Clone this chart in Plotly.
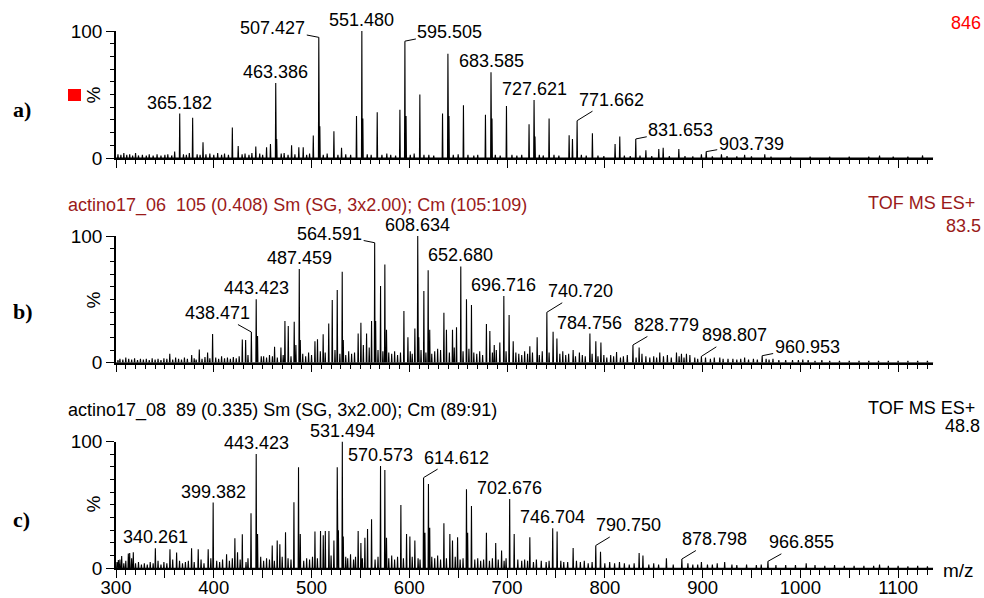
import plotly.graph_objects as go

# ---------------- data ----------------
# Panel a) main peaks (m/z, relative intensity %)
mz_a = [365.182, 378.4, 389.0, 419.0, 425.0, 443.0, 454.0, 458.0, 463.386, 464.4,
        479.6, 487.0, 491.5, 501.8, 507.427, 508.5, 522.9, 530.7, 546.0, 551.480,
        552.5, 567.2, 590.4, 595.505, 596.7, 610.8, 634.0, 639.5, 640.6, 655.4,
        677.9, 683.585, 684.6, 699.4, 722.5, 727.621, 728.6, 743.0, 763.5, 766.9,
        771.662, 787.3, 810.5, 815.3, 831.653, 842.0, 855.2, 859.7, 875.7, 898.8,
        903.739, 919.3, 943.0, 963.6, 1081.0, 1125.0]
int_a = [35, 31.7, 12.4, 24, 9.5, 9, 8.5, 11, 59, 15,
         10, 8.5, 8.5, 17.7, 95, 25, 21, 8, 33, 100,
         31, 36, 38, 92, 33, 50, 35, 82, 33, 41.5,
         34, 67.5, 31, 41, 26.5, 45.7, 17, 31, 18, 15,
         29.4, 19.4, 11, 17, 15, 6, 7, 8, 7, 3,
         5, 3, 2.5, 3, 2, 2]
noise_mz_a = [302, 305, 308, 311, 314, 317, 320, 323, 327, 331,
              334, 338, 342, 346, 350, 353, 357, 360, 369, 372,
              375, 383, 386, 392, 396, 400, 404, 408, 411, 415,
              429, 432, 436, 439, 447, 450, 469, 472, 476, 483,
              495, 498, 512, 516, 527, 535, 540, 557, 561, 572,
              577, 581, 586, 601, 605, 615, 620, 625, 645, 650,
              660, 666, 670, 688, 693, 705, 710, 715, 733, 737,
              748, 753, 776, 781, 793, 799, 820, 826, 836, 848,
              866, 882, 890, 910, 925, 935, 950, 970, 990, 1010,
              1030, 1050, 1070, 1095, 1110]
noise_int_a = [3, 2.5, 4, 2.5, 3, 2, 4, 2, 2.5, 2,
               3, 2, 3, 2, 2.5, 3, 2, 5, 3, 2.5,
               4, 3, 2.5, 3, 3.5, 2.5, 4, 2.5, 3.5, 2.5,
               3, 3.5, 2.5, 4, 3.5, 2.5, 3.5, 4, 2.5, 3,
               2.5, 3.5, 2.5, 3.5, 2.5, 3, 2.5, 3, 2.5, 2.5,
               3.5, 2.5, 2, 2.5, 3.5, 2.5, 2.5, 2, 2.5, 3,
               2.5, 2, 2.5, 2.5, 2, 2.5, 2, 2.5, 2.5, 2,
               2.5, 2, 2.5, 2, 2, 1.5, 2, 1.5, 2, 1.5,
               1.5, 1.5, 1.2, 1.2, 1.5, 1.2, 1.2, 1, 1, 1,
               1, 1, 1, 1, 1]
labels_a = [365.182, 463.386, 507.427, 551.480, 595.505, 683.585, 727.621,
            771.662, 831.653, 903.739]

# Panel b)
mz_b = [355.0, 377.4, 385.2, 393.7, 398.8, 429.2, 432.6, 438.471, 443.423, 444.8,
        448.6, 462.2, 468.7, 472.8, 476.2, 482.3, 484.0, 487.459, 488.5, 503.5,
        506.1, 511.9, 517.6, 521.2, 526.3, 531.4, 532.5, 547.7, 550.5, 556.3,
        561.4, 564.591, 565.6, 570.6, 575.0, 576.7, 594.5, 598.6, 605.7, 608.634,
        609.7, 614.9, 619.3, 620.9, 635.4, 638.0, 644.2, 648.3, 652.680, 658.5,
        663.6, 678.9, 682.4, 686.9, 692.6, 696.716, 702.1, 706.3, 723.3, 730.8,
        740.720, 747.1, 751.0, 767.6, 774.0, 784.756, 790.8, 796.0, 812.0, 828.779,
        835.1, 856.2, 873.3, 878.4, 883.5, 898.807, 917.6, 943.0, 960.953, 972.0,
        1002.5]
int_b = [7, 6, 10.5, 8, 22.7, 18.4, 18, 24.2, 50, 21,
         5, 12.6, 12, 33, 29, 32.4, 14, 74, 18, 17,
         18.5, 22.4, 31, 49.5, 57.4, 71.8, 18, 23, 31.6, 23,
         33, 94.7, 33, 60.5, 77.6, 26, 40.8, 20, 27, 100,
         20, 56.6, 73, 26, 39.5, 26, 26, 28, 76, 50,
         45.5, 30.5, 25, 14, 16, 52.6, 37.6, 17, 13, 20,
         39.8, 24.5, 19, 10, 8, 23, 17, 16, 8.5, 14,
         12, 8, 8, 7, 7, 5, 4, 4, 5.5, 3,
         2.5]
noise_mz_b = [302, 304, 307, 310, 313, 316, 319, 322, 325, 328,
              331, 334, 337, 340, 343, 346, 349, 352, 358, 361,
              364, 367, 370, 373, 380, 382, 388, 391, 396, 402,
              405, 408, 411, 414, 417, 420, 423, 426, 435, 451,
              454, 457, 460, 465, 471, 479, 491, 494, 497, 500,
              509, 514, 524, 529, 535, 538, 541, 544, 553, 559,
              568, 573, 579, 582, 585, 588, 591, 601, 603, 612,
              617, 623, 626, 629, 632, 641, 646, 655, 661, 666,
              669, 672, 675, 685, 689, 699, 709, 712, 715, 718,
              721, 726, 733, 736, 743, 754, 757, 760, 763, 770,
              777, 780, 787, 793, 799, 802, 806, 809, 816, 819,
              823, 832, 838, 842, 846, 850, 853, 860, 864, 868,
              876, 881, 887, 892, 895, 903, 908, 912, 921, 926,
              931, 935, 939, 947, 952, 956, 965, 968, 978, 985,
              992, 998, 1008, 1015, 1022, 1030, 1040, 1050, 1060, 1070,
              1080, 1090, 1100, 1110, 1120, 1130]
noise_int_b = [2, 3, 2.5, 4, 3, 2.5, 3.5, 2, 3, 2.5,
               3, 2, 3.5, 2.5, 3, 2, 3.5, 3, 2.5, 4,
               3, 2.5, 4, 3, 3.5, 2.5, 3, 4.5, 3.5, 4,
               3, 5, 3.5, 4, 3, 4.5, 3.5, 5, 6, 5,
               4, 6, 5, 4, 6, 5, 7, 5, 8, 6,
               9, 8, 10, 7, 6, 9, 7, 8, 14, 12,
               10, 9, 8, 7, 9, 6, 8, 9, 7, 10,
               8, 7, 9, 11, 10, 8, 12, 9, 11, 8,
               7, 9, 6, 8, 10, 9, 8, 7, 6, 9,
               7, 8, 6, 9, 8, 7, 9, 6, 7, 5,
               6, 5, 7, 5, 6, 4, 6, 5, 4, 5,
               6, 4, 7, 5, 4, 5, 4, 5, 6, 4,
               5, 4, 6, 4, 3, 4, 3, 4, 3, 3,
               3, 2.5, 3, 2.5, 3, 2.5, 3, 2.5, 2, 2,
               2, 2, 2, 1.5, 2, 1.5, 1.5, 1.5, 1.5, 1.5,
               1.5, 1.5, 1.5, 1.5, 1.5, 1.5]
labels_b = [438.471, 443.423, 487.459, 564.591, 608.634, 652.680, 696.716,
            740.720, 784.756, 828.779, 898.807, 960.953]

# Panel c)
mz_c = [302.4, 305.8, 312.6, 314.0, 317.7, 340.261, 355.2, 362.0, 377.3, 384.1,
        394.3, 399.382, 413.1, 421.6, 424.3, 429.2, 438.1, 443.423, 444.8, 459.8,
        464.9, 467.6, 473.4, 482.0, 486.7, 488.5, 503.5, 509.2, 512.0, 514.1,
        517.8, 522.9, 526.3, 527.5, 531.494, 532.5, 539.9, 547.7, 550.5, 554.6,
        557.3, 561.4, 570.573, 575.0, 576.7, 591.4, 597.2, 600.6, 605.7, 614.612,
        616.0, 619.6, 620.9, 635.4, 641.5, 644.2, 649.4, 658.5, 659.7, 663.6,
        678.9, 688.4, 694.4, 702.676, 707.3, 723.3, 746.704, 751.2, 767.6, 790.750,
        795.6, 835.1, 839.0, 863.0, 878.798, 898.8, 922.6, 966.855, 1006.0, 1081.0]
int_c = [6.5, 9.6, 11.7, 12, 12.7, 15.8, 15, 12.4, 15.8, 15,
         15, 51.8, 11, 23.7, 12.6, 26.8, 43.4, 90.2, 27, 18,
         22, 19, 28.4, 52, 79.7, 27, 29, 29.5, 26, 29.5,
         29.5, 22, 79.7, 30, 100, 25, 11, 29.4, 20, 24,
         31, 38.7, 80.7, 77.6, 24, 50, 27, 25, 22, 71.5,
         28, 66.5, 32, 35.5, 27, 22, 24.5, 62.3, 28, 49.2,
         28, 20, 14, 54.7, 27, 24.5, 31.5, 29, 16, 18,
         13, 12, 10, 8, 7.3, 5, 5, 5.5, 4, 3]
noise_mz_c = [301, 304, 308, 310, 316, 320, 323, 326, 329, 332,
              335, 338, 343, 346, 349, 352, 358, 365, 368, 371,
              374, 380, 387, 390, 397, 403, 406, 409, 416, 419,
              427, 433, 435, 448, 451, 454, 457, 462, 470, 476,
              479, 492, 495, 498, 501, 506, 520, 535, 537, 543,
              545, 552, 565, 568, 579, 582, 585, 588, 594, 603,
              609, 611, 623, 626, 629, 632, 638, 647, 652, 655,
              667, 670, 673, 676, 682, 685, 691, 697, 699, 711,
              715, 718, 721, 727, 730, 735, 740, 743, 755, 758,
              762, 771, 775, 779, 783, 787, 800, 805, 810, 815,
              820, 825, 830, 845, 850, 855, 870, 885, 890, 895,
              905, 910, 915, 930, 935, 945, 955, 960, 975, 985,
              995, 1015, 1025, 1035, 1045, 1055, 1065, 1075, 1090, 1100,
              1110, 1120, 1130]
noise_int_c = [5, 7, 4, 6, 8, 4, 5, 3, 4, 3,
               5, 4, 6, 3, 5, 4, 7, 6, 4, 5,
               6, 5, 7, 4, 8, 6, 5, 7, 6, 8,
               7, 5, 8, 9, 6, 8, 7, 6, 9, 8,
               7, 6, 8, 7, 9, 8, 10, 9, 8, 7,
               9, 8, 7, 9, 8, 10, 7, 9, 8, 9,
               8, 7, 9, 8, 10, 7, 8, 9, 7, 8,
               7, 8, 6, 7, 6, 8, 7, 6, 8, 7,
               6, 7, 6, 5, 7, 6, 5, 6, 6, 5,
               5, 6, 5, 6, 4, 5, 4, 5, 4, 5,
               4, 3, 4, 3, 4, 3, 3, 4, 3, 3,
               3, 3, 4, 3, 2.5, 3, 2.5, 3, 2.5, 2.5,
               2.5, 2.5, 2, 2.5, 2, 2, 2, 2, 2, 2,
               1.5, 2, 1.5]
labels_c = [340.261, 399.382, 443.423, 531.494, 570.573, 614.612, 702.676,
            746.704, 790.750, 878.798, 966.855]

x_ticks = [300, 350, 400, 450, 500, 550, 600, 650, 700, 750, 800, 850, 900,
           950, 1000, 1050, 1100]
x_ticktext = ["300", "", "400", "", "500", "", "600", "", "700", "", "800", "",
              "900", "", "1000", "", "1100"]

title_b = "actino17_06  105 (0.408) Sm (SG, 3x2.00); Cm (105:109)"
title_c = "actino17_08  89 (0.335) Sm (SG, 3x2.00); Cm (89:91)"
scale_a, scale_b, scale_c = "846", "83.5", "48.8"

# ---------------- styling ----------------
W, H = 984, 598
XMIN, XMAX = 300, 1136
FONT = "Liberation Sans, Arial, sans-serif"
DARKRED = "#9a1a1a"

def px(x):
    return x / W

def py(y):
    return 1 - y / H

xdom = [px(116), px(933.3)]
ydoms = {
    "a": [py(158), py(31)],
    "b": [py(362.7), py(236)],
    "c": [py(568.3), py(441.5)],
}


def profile(mzs, hs, nmz, nh, w=0.4):
    pts = sorted(list(zip(mzs, hs)) + list(zip(nmz, nh)))
    xs, ys = [XMIN], [0]
    for m, h in pts:
        xs += [m - w, m, m + w]
        ys += [0, h, 0]
    xs.append(XMAX)
    ys.append(0)
    return xs, ys


fig = go.Figure()
panels = [
    ("a", "x", "y", mz_a, int_a, noise_mz_a, noise_int_a),
    ("b", "x2", "y2", mz_b, int_b, noise_mz_b, noise_int_b),
    ("c", "x3", "y3", mz_c, int_c, noise_mz_c, noise_int_c),
]
for key, xa, ya, mz, it, nmz, nit in panels:
    xs, ys = profile(mz, it, nmz, nit)
    fig.add_trace(go.Scatter(x=xs, y=ys, mode="lines", xaxis=xa, yaxis=ya,
                             line=dict(color="black", width=1.1),
                             hoverinfo="skip", showlegend=False))

axis_common = dict(showline=True, linecolor="black", linewidth=1.5,
                   showgrid=False, zeroline=False, ticks="outside",
                   tickcolor="black", tickwidth=1, ticklen=8,
                   tickfont=dict(family=FONT, size=19, color="black"),
                   fixedrange=True, automargin=False)

layout = dict(width=W, height=H, margin=dict(l=0, r=0, t=0, b=0),
              paper_bgcolor="white", plot_bgcolor="white",
              font=dict(family=FONT, size=18, color="black"),
              showlegend=False)

for i, key in enumerate(["a", "b", "c"]):
    sfx = "" if i == 0 else str(i + 1)
    xax = dict(axis_common, domain=xdom, range=[XMIN, XMAX],
               anchor="y" + sfx, tickmode="array", tickvals=x_ticks,
               ticktext=x_ticktext, showticklabels=(key == "c"),
               minor=dict(dtick=10, tick0=300, ticks="outside", ticklen=4.5,
                          tickcolor="black", tickwidth=1))
    if key == "c":
        xax["ticklabelstandoff"] = -6
        xax["tickfont"] = dict(family=FONT, size=18.5, color="black")
    yax = dict(axis_common, domain=ydoms[key], range=[0, 100],
               anchor="x" + sfx, tickmode="array", tickvals=[0, 100],
               ticktext=["0", "100"],
               minor=dict(dtick=10, tick0=0, ticks="outside", ticklen=4,
                          tickcolor="black", tickwidth=1))
    layout["xaxis" + sfx] = xax
    layout["yaxis" + sfx] = yax

fig.update_layout(**layout)

# leader-line offsets (pixels) for labels that are not directly above peaks
leaders = {
    ("a", 507.427): (-46, -9), ("a", 595.505): (45, -9), ("a", 771.662): (34, -21),
    ("a", 831.653): (45, -9), ("a", 903.739): (45, -8),
    ("b", 438.471): (-34, -19), ("b", 564.591): (-45, -9), ("b", 740.720): (34, -21),
    ("b", 828.779): (34, -20), ("b", 898.807): (33, -21), ("b", 960.953): (45, -9),
    ("c", 614.612): (33, -20), ("c", 790.750): (33, -20), ("c", 878.798): (33, -20),
    ("c", 966.855): (34, -19),
}

annotations = []
for key, xa, ya, mz, it, labs in [("a", "x", "y", mz_a, int_a, labels_a),
                                  ("b", "x2", "y2", mz_b, int_b, labels_b),
                                  ("c", "x3", "y3", mz_c, int_c, labels_c)]:
    hmap = dict(zip(mz, it))
    for m in labs:
        h = hmap[m]
        txt = f"{m:.3f}"
        if (key, m) in leaders:
            ax, ay = leaders[(key, m)]
            annotations.append(dict(x=m, y=h, xref=xa, yref=ya, text=txt,
                                    showarrow=True, arrowhead=0, arrowwidth=1,
                                    arrowcolor="black", ax=ax, ay=ay,
                                    standoff=0, font=dict(size=18)))
        else:
            annotations.append(dict(x=m, y=h, xref=xa, yref=ya, text=txt,
                                    showarrow=False, yanchor="bottom",
                                    yshift=-1, font=dict(size=18)))

def paper_text(text, x, y, xanchor="center", color="black", size=18,
               family=FONT, angle=0):
    return dict(text=text, x=px(x), y=py(y), xref="paper", yref="paper",
                xanchor=xanchor, yanchor="middle", showarrow=False,
                textangle=angle,
                font=dict(family=family, size=size, color=color))

SERIF = "Liberation Serif, Times New Roman, serif"
annotations += [
    paper_text("<b>a)</b>", 22, 109, family=SERIF, size=22),
    paper_text("<b>b)</b>", 23, 311, family=SERIF, size=22),
    paper_text("<b>c)</b>", 21, 519, family=SERIF, size=22),
    paper_text("%", 92.5, 95, angle=-90, size=19),
    paper_text("%", 92.5, 300, angle=-90, size=19),
    paper_text("%", 92.5, 504, angle=-90, size=19),
    paper_text(scale_a, 983, 22.7, xanchor="right", color="#ff0000"),
    paper_text(title_b, 66, 205, xanchor="left", color=DARKRED),
    paper_text("TOF MS ES+", 977, 203.5, xanchor="right", color=DARKRED),
    paper_text(scale_b, 983, 225.7, xanchor="right", color=DARKRED),
    paper_text(title_c, 66, 410, xanchor="left"),
    paper_text("TOF MS ES+", 977, 407.5, xanchor="right"),
    paper_text(scale_c, 982, 425.5, xanchor="right"),
    paper_text("m/z", 941, 570, xanchor="left", size=19),
]
fig.update_layout(annotations=annotations)

fig.add_shape(type="rect", xref="paper", yref="paper",
              x0=px(68), x1=px(81), y0=py(101), y1=py(89),
              fillcolor="#ff0000", line=dict(width=0))

fig.write_html("out.html", config={"displayModeBar": False},
               post_script="document.body.style.margin='0';")
